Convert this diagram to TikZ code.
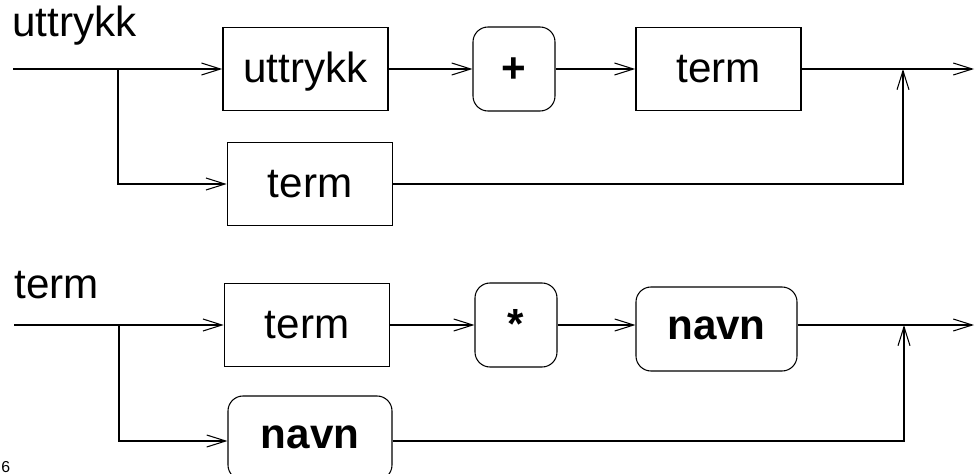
\documentclass[tikz,border=0pt]{standalone}
\usepackage{fontspec}
\setmainfont{Liberation Sans}
\usetikzlibrary{arrows.meta}

\begin{document}
\begin{tikzpicture}[x=0.2mm,y=-0.2mm,
		every node/.style={font=\fontsize{24}{28}\selectfont},
		nonterminal/.style={draw,line width=0.9pt,inner sep=0pt,minimum width=33mm,minimum height=16.6mm,text height=5.2mm,text depth=0pt},
		terminal/.style={draw,line width=0.6pt,rounded corners=3mm,inner sep=0pt,minimum height=16.8mm,text height=4mm,text depth=0pt,font=\fontsize{24}{28}\selectfont\bfseries},
		flow/.style={line width=0.6pt,-{Straight Barb[length=3.8mm,width=2.4mm]}}]
		\useasboundingbox (0,0) rectangle (975,474);

		% uttrykk
		\node[anchor=base west,inner sep=0pt] (lab1) at (12,37) {uttrykk};
		\coordinate (s1) at (13,69);
		\coordinate (b1) at (118,69);
		\coordinate (j1) at (903,69);
		\coordinate (e1) at (974,69);
		\node[nonterminal] (u1) at (305.5,69) {uttrykk};
		\node[terminal,minimum width=16.4mm,text height=5.2mm] (plus) at (514,69) {+};
		\node[nonterminal] (t1) at (718.5,69) {term};
		\node[nonterminal] (t2) at (310,184) {term};
		\draw[line width=0.6pt] (s1) -- (b1);
		\draw[flow] (b1) -- (u1.west);
		\draw[flow] (u1.east) -- (plus.west);
		\draw[flow] (plus.east) -- (t1.west);
		\draw[flow] (t1.east) -- (e1);
		\draw[flow] (b1) |- (t2.west);
		\draw[flow] (t2.east) -| (j1);

		% term
		\node[anchor=base west,inner sep=0pt] (lab2) at (14,298) {term};
		\coordinate (s2) at (14,325);
		\coordinate (b2) at (119,325);
		\coordinate (c2) at (119,441);
		\coordinate (j2) at (904,325);
		\coordinate (e2) at (974,325);
		\node[nonterminal] (t3) at (307,325) {term};
		\node[terminal,minimum width=16.4mm,text height=5.2mm] (star) at (516,325) {*};
		\node[terminal,minimum width=32.2mm] (n1) at (716.5,329) {navn};
		\node[terminal,minimum width=32.8mm] (n2) at (310,438) {navn};
		\draw[line width=0.6pt] (s2) -- (b2);
		\draw[flow] (b2) -- (t3.west);
		\draw[flow] (t3.east) -- (star.west);
		\draw[flow] (star.east) -- (n1.west |- s2);
		\draw[flow] (n1.east |- s2) -- (e2);
		\draw[flow] (b2) -- (c2) -- (n2.west |- c2);
		\draw[flow] (n2.east |- c2) -| (j2);

		\node[anchor=base west,inner sep=0pt,font=\fontsize{9}{11}\selectfont] (pg) at (1,472) {6};
\end{tikzpicture}
\end{document}
